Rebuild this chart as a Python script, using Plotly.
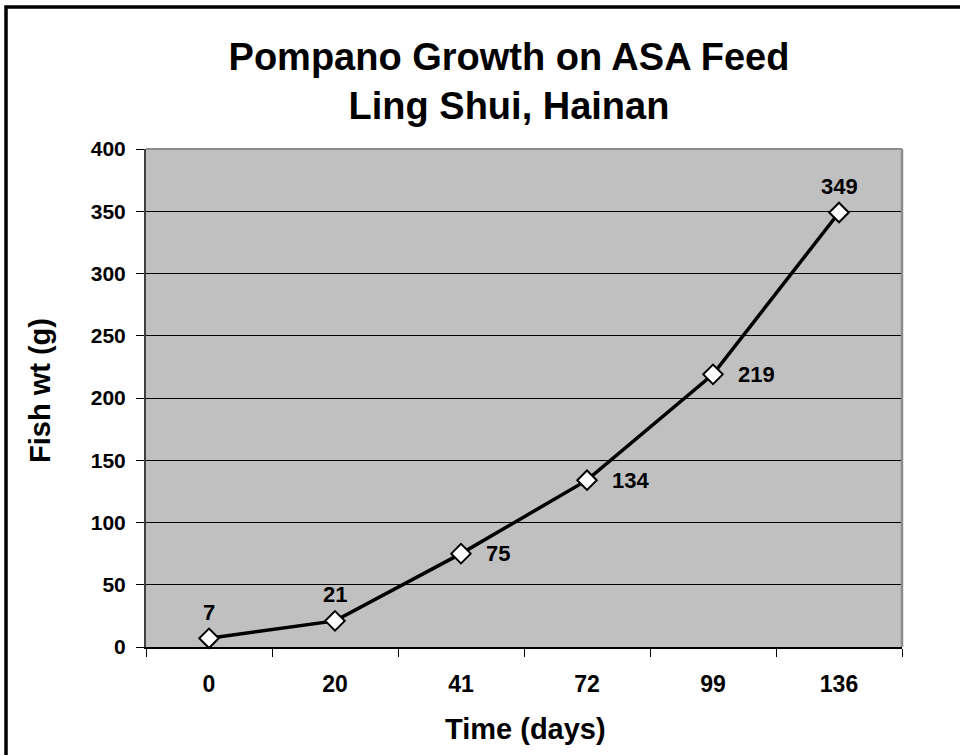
import plotly.graph_objects as go

days = ["0", "20", "41", "72", "99", "136"]
weights = [7, 21, 75, 134, 219, 349]
label_side = ["above", "above", "right", "right", "right", "above"]
y_ticks = [0, 50, 100, 150, 200, 250, 300, 350, 400]

FONT = "Liberation Sans, Arial, sans-serif"
W, H = 960, 755
L, R, T, B = 146, 58, 149, 108
pw, ph = W - L - R, H - T - B


def fx(p):
    return (p - L) / pw


def fy(p):
    return (H - B - p) / ph


fig = go.Figure()
fig.add_trace(go.Scatter(
    x=days, y=weights, mode="lines+markers",
    line=dict(color="black", width=3.5),
    marker=dict(symbol="diamond", size=15, color="white",
                line=dict(color="black", width=2)),
    cliponaxis=False, showlegend=False, hoverinfo="x+y",
))

# data labels (x given as category index)
for i, (w, side) in enumerate(zip(weights, label_side)):
    if side == "above":
        fig.add_annotation(x=i, y=w, text=str(w), showarrow=False,
                           xanchor="center", yanchor="middle", yshift=26,
                           font=dict(family=FONT, size=22, color="black", weight="bold"))
    else:
        fig.add_annotation(x=i, y=w, text=str(w), showarrow=False,
                           xanchor="left", yanchor="middle", xshift=23,
                           font=dict(family=FONT, size=22, color="black", weight="bold"))

# axis titles
fig.add_annotation(xref="paper", yref="paper", x=fx(525), y=fy(729), text="Time (days)",
                   showarrow=False, xanchor="center", yanchor="middle",
                   font=dict(family=FONT, size=29, color="black", weight="bold"))
fig.add_annotation(xref="paper", yref="paper", x=fx(40), y=fy(391), text="Fish wt (g)",
                   showarrow=False, xanchor="center", yanchor="middle", textangle=-90,
                   font=dict(family=FONT, size=29, color="black", weight="bold"))

# outer frame (only left/top edges fall inside the picture)
fig.add_shape(type="rect", xref="paper", yref="paper",
              x0=fx(6), x1=fx(975), y0=fy(770), y1=fy(7),
              line=dict(color="black", width=3.5), layer="above")
# plot-area border (gray top/right)
fig.add_shape(type="line", xref="paper", yref="paper", x0=0, x1=1, y0=1, y1=1,
              line=dict(color="#8C8C8C", width=2), layer="above")
fig.add_shape(type="line", xref="paper", yref="paper", x0=1, x1=1, y0=0, y1=1,
              line=dict(color="#8C8C8C", width=2.5), layer="above")

fig.update_layout(
    width=W, height=H,
    margin=dict(l=L, r=R, t=T, b=B, pad=0),
    paper_bgcolor="white", plot_bgcolor="#C0C0C0",
    font=dict(family=FONT, color="black"),
    title=dict(text="Pompano Growth on ASA Feed<br>Ling Shui, Hainan",
               x=509 / W, xref="container", xanchor="center",
               y=1 - 70 / H, yref="container", yanchor="middle",
               font=dict(family=FONT, size=38, color="black", weight="bold")),
    xaxis=dict(type="category", categoryorder="array", categoryarray=days,
               range=[-0.5, len(days) - 0.5],
               tickson="boundaries", ticks="outside", ticklen=8,
               tickcolor="black", tickwidth=1, showgrid=False,
               showline=True, linecolor="black", linewidth=1.5,
               tickfont=dict(family=FONT, size=23, color="black", weight="bold"),
               tickangle=0, ticklabelstandoff=16, automargin=False, fixedrange=True),
    yaxis=dict(range=[0, 400], tickvals=y_ticks, ticks="outside", ticklen=8,
               tickcolor="black", tickwidth=1, showgrid=True, gridcolor="black", gridwidth=1,
               showline=True, linecolor="#404040", linewidth=2, zeroline=False,
               tickfont=dict(family=FONT, size=21, color="black", weight="bold"),
               ticklabelstandoff=6, automargin=False, fixedrange=True),
)

fig.write_html("out.html", config={"displayModeBar": False},
               post_script="document.body.style.margin='0px';")
